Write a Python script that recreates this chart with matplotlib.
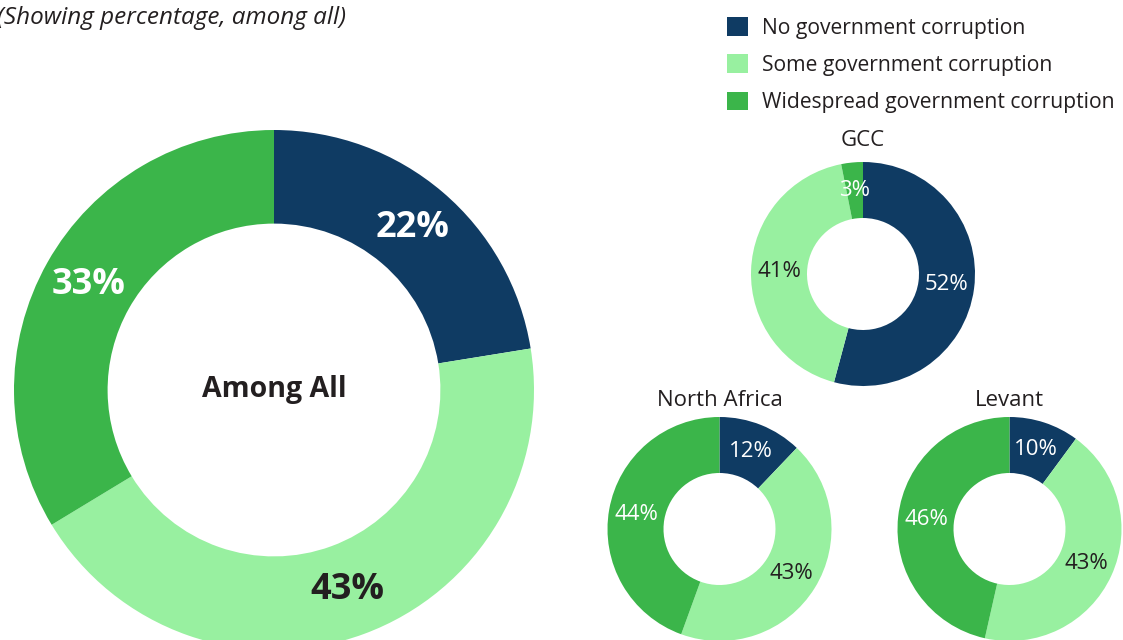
import matplotlib
matplotlib.use("Agg")
import matplotlib.pyplot as plt
import numpy as np

plt.rcParams['font.family'] = ['Open Sans', 'DejaVu Sans']

# данные
categories = ["No government corruption", "Some government corruption",
              "Widespread government corruption"]
colors = ["#0f3b63", "#98f0a0", "#3bb54a"]
label_colors = ["white", "#231f20", "white"]

all_values = [22, 43, 33]
gcc_values = [52, 41, 3]
north_africa_values = [12, 43, 44]
levant_values = [10, 43, 46]

W, H = 1123, 640
fig = plt.figure(figsize=(W / 100, H / 100), dpi=100)


def donut(cx, cy, r, values, hole, title=None, gap=22, size=16, bold=False):
    # оси по пикселям: центр (cx, cy) сверху, радиус r
    ax = fig.add_axes([(cx - r) / W, (H - cy - r) / H, 2 * r / W, 2 * r / H])
    ring = 1 - hole
    wedges, _ = ax.pie(values, colors=colors, startangle=90, counterclock=False,
                       radius=1, wedgeprops=dict(width=ring, edgecolor='none'))
    ax.set_xlim(-1, 1)
    ax.set_ylim(-1, 1)
    ax.set_aspect('equal')
    ax.axis('off')
    rr = 1 - ring / 2
    for w, v, c in zip(wedges, values, label_colors):
        ang = np.deg2rad((w.theta1 + w.theta2) / 2)
        ax.text(rr * np.cos(ang), rr * np.sin(ang), f"{v}%", color=c,
                ha='center', va='center', fontsize=size,
                fontweight='bold' if bold else 'normal')
    if title:
        fig.text(cx / W, 1 - (cy - r - gap) / H, title, ha='center', va='center',
                 fontsize=16, color='#231f20')
    return ax, wedges


ax_all, wedges = donut(274, 390, 260, all_values, 0.64, size=26, bold=True)
ax_all.text(0, 0, "Among All", ha='center', va='center', fontsize=20.5,
            fontweight='bold', color='#231f20')

donut(863, 274, 112, gcc_values, 0.5, title="GCC", gap=21)
donut(719.5, 529, 112, north_africa_values, 0.5, title="North Africa", gap=17)
donut(1009.5, 529, 112, levant_values, 0.5, title="Levant", gap=17)

fig.text(-3 / W, 1 - 18 / H, "(Showing percentage, among all)", ha='left',
         va='center', fontsize=17.5, style='italic', color='#231f20')

fig.legend(wedges, categories, loc='upper left',
           bbox_to_anchor=(727 / W, 1 - 17 / H), frameon=False, borderpad=0,
           fontsize=15.2, handlelength=1.0, handleheight=1.0,
           handletextpad=0.68, labelspacing=0.74, borderaxespad=0,
           labelcolor='#231f20')

fig.savefig("out.png", dpi=100)
